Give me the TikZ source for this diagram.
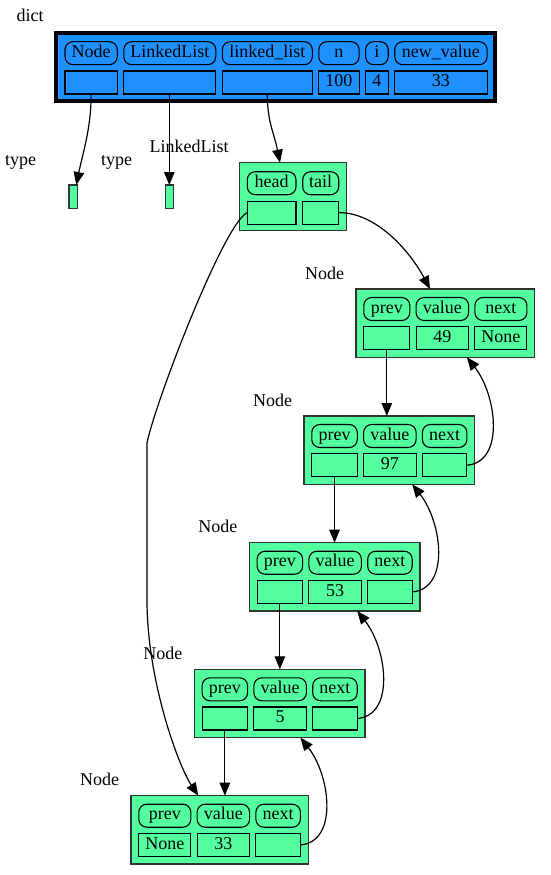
\documentclass[tikz,border=0pt]{standalone}
\usepackage{fontspec}
\setmainfont{Liberation Serif}
\usepackage{tikz}
\usetikzlibrary{arrows.meta,positioning}
\definecolor{dictblue}{RGB}{30,144,255}
\definecolor{nodegreen}{RGB}{84,255,159}

\begin{document}
\begin{tikzpicture}[x=1pt, y=-1pt, font=\fontsize{18}{21}\selectfont,
        objbox/.style={draw=black!80, fill=nodegreen, line width=1.2pt, inner sep=0pt, outer sep=0pt, anchor=north west},
        pill/.style={draw, rounded corners=8pt, line width=1.1pt, inner sep=0pt, outer sep=0pt, minimum height=23pt, text height=12.5pt, text depth=4pt},
        slot/.style={draw, line width=1.1pt, inner sep=0pt, outer sep=0pt, minimum height=23pt, text height=12.5pt, text depth=4pt},
        arr/.style={-{Triangle[length=13pt, width=10.5pt]}, line width=1.2pt}]
        \useasboundingbox[fill=white] (0,0) rectangle (551,875);

        \node (dictlbl) at (30,15) {dict};
        \node[draw=black, fill=dictblue, line width=4pt, inner sep=0pt, outer sep=0pt, anchor=north west, minimum width=439pt, minimum height=68.6pt] (dict) at (56.3,32.7) {};
        \node[pill, minimum width=52.3pt, anchor=north west] (dNp) at (65,41.7) {Node};
        \node[pill, minimum width=92pt, right=6.5pt of dNp] (dLp) {LinkedList};
        \node[pill, minimum width=90pt, right=6.5pt of dLp] (dKp) {linked\_list};
        \node[pill, minimum width=40.3pt, right=6.5pt of dKp] (dnp) {n};
        \node[pill, minimum width=22.6pt, right=6.5pt of dnp] (dip) {i};
        \node[pill, minimum width=92.4pt, right=6.5pt of dip] (dvp) {new\_value};
        \node[slot, minimum width=52.3pt, below=6.3pt of dNp] (dNv) {};
        \node[slot, minimum width=92pt, below=6.3pt of dLp] (dLv) {};
        \node[slot, minimum width=90pt, below=6.3pt of dKp] (dKv) {};
        \node[slot, minimum width=40.3pt, below=6.3pt of dnp] (dnv) {100};
        \node[slot, minimum width=22.6pt, below=6.3pt of dip] (div) {4};
        \node[slot, minimum width=92.4pt, below=6.3pt of dvp] (dvv) {33};

        \node (ty1) at (20.7,162.3) {type};
        \node[objbox, minimum width=8.3pt, minimum height=23.3pt] (t1) at (69,185) {};
        \node (ty2) at (116.7,162.3) {type};
        \node[objbox, minimum width=8pt, minimum height=23.3pt] (t2) at (165.3,185) {};

        \node (lllbl) at (189,146.7) {LinkedList};
        \node[objbox, minimum width=107.4pt, minimum height=68pt] (llb) at (239.3,162.7) {};
        \node[pill, minimum width=48.7pt, anchor=north west] (hp) at (247.3,171.7) {head};
        \node[pill, minimum width=36pt, right=6.7pt of hp] (tp) {tail};
        \node[slot, minimum width=48.7pt, below=6.4pt of hp] (hc) {};
        \node[slot, minimum width=36pt, below=6.4pt of tp] (tc) {};

        \node (l1) at (324.5,273) {Node};
        \node[objbox, minimum width=178.4pt, minimum height=68.3pt] (b1) at (356,289) {};
        \node[pill, minimum width=46pt, anchor=north west] (pp1) at (363.8,297.5) {prev};
        \node[pill, minimum width=52.5pt, right=6.3pt of pp1] (vp1) {value};
        \node[pill, minimum width=52pt, right=6.3pt of vp1] (np1) {next};
        \node[slot, minimum width=46pt, below=6.2pt of pp1] (p1) {};
        \node[slot, minimum width=52.5pt, below=6.2pt of vp1] (v1) {49};
        \node[slot, minimum width=52pt, below=6.2pt of np1] (x1) {None};

        \node (l2) at (272.5,400) {Node};
        \node[objbox, minimum width=170.7pt, minimum height=68.3pt] (b2) at (304,416) {};
        \node[pill, minimum width=45.5pt, anchor=north west] (pp2) at (311.8,424.5) {prev};
        \node[pill, minimum width=52.5pt, right=6.3pt of pp2] (vp2) {value};
        \node[pill, minimum width=44.5pt, right=6.3pt of vp2] (np2) {next};
        \node[slot, minimum width=45.5pt, below=6.2pt of pp2] (p2) {};
        \node[slot, minimum width=52.5pt, below=6.2pt of vp2] (v2) {97};
        \node[slot, minimum width=44.5pt, below=6.2pt of np2] (x2) {};

        \node (l3) at (217.8,526.7) {Node};
        \node[objbox, minimum width=170.7pt, minimum height=68.3pt] (b3) at (249.3,542.7) {};
        \node[pill, minimum width=45.5pt, anchor=north west] (pp3) at (257.1,551.2) {prev};
        \node[pill, minimum width=52.5pt, right=6.3pt of pp3] (vp3) {value};
        \node[pill, minimum width=44.5pt, right=6.3pt of vp3] (np3) {next};
        \node[slot, minimum width=45.5pt, below=6.2pt of pp3] (p3) {};
        \node[slot, minimum width=52.5pt, below=6.2pt of vp3] (v3) {53};
        \node[slot, minimum width=44.5pt, below=6.2pt of np3] (x3) {};

        \node (l4) at (162.8,653.3) {Node};
        \node[objbox, minimum width=170.7pt, minimum height=68.3pt] (b4) at (194.3,669.3) {};
        \node[pill, minimum width=45.5pt, anchor=north west] (pp4) at (202.1,677.8) {prev};
        \node[pill, minimum width=52.5pt, right=6.3pt of pp4] (vp4) {value};
        \node[pill, minimum width=44.5pt, right=6.3pt of vp4] (np4) {next};
        \node[slot, minimum width=45.5pt, below=6.2pt of pp4] (p4) {};
        \node[slot, minimum width=52.5pt, below=6.2pt of vp4] (v4) {5};
        \node[slot, minimum width=44.5pt, below=6.2pt of np4] (x4) {};

        \node (l5) at (99.5,779.7) {Node};
        \node[objbox, minimum width=177.2pt, minimum height=68.3pt] (b5) at (131,795.7) {};
        \node[pill, minimum width=52pt, anchor=north west] (pp5) at (138.8,804.2) {prev};
        \node[pill, minimum width=52.5pt, right=6.3pt of pp5] (vp5) {value};
        \node[pill, minimum width=44.5pt, right=6.3pt of vp5] (np5) {next};
        \node[slot, minimum width=52pt, below=6.2pt of pp5] (p5) {None};
        \node[slot, minimum width=52.5pt, below=6.2pt of vp5] (v5) {33};
        \node[slot, minimum width=44.5pt, below=6.2pt of np5] (x5) {};

        \draw[arr] (dNv.south) .. controls +(0,35) and +(6,-30) .. ([xshift=-1pt]t1.north east);
        \draw[arr] (t2.north |- dLv.south) -- (t2.north);
        \draw[arr] (dKv.south) .. controls +(0,28) and +(-6,-30) .. ([xshift=-13pt]llb.north);
        \draw[arr] (tc.east) .. controls +(40,0) and +(-18,-34) .. ([xshift=74pt]b1.north west);
        \draw[arr] (hc.west) .. controls (224,223) and (155,403) .. (147,443) -- (147,600) .. controls (147,680) and (178,765) .. ([xshift=67.3pt]b5.north west);

        \draw[arr] (p1.south) -- (p1.south |- b2.north);
        \draw[arr] (p2.south) -- (p2.south |- b3.north);
        \draw[arr] (p3.south) -- (p3.south |- b4.north);
        \draw[arr] (p4.south) -- (p4.south |- b5.north);

        \draw[arr] (x2.east) .. controls +(38,-3) and +(30,38) .. (x2.east |- b1.south);
        \draw[arr] (x3.east) .. controls +(38,-3) and +(30,38) .. (x3.east |- b2.south);
        \draw[arr] (x4.east) .. controls +(38,-3) and +(30,38) .. (x4.east |- b3.south);
        \draw[arr] (x5.east) .. controls +(38,-3) and +(30,38) .. (x5.east |- b4.south);
    \end{tikzpicture}
\end{document}
